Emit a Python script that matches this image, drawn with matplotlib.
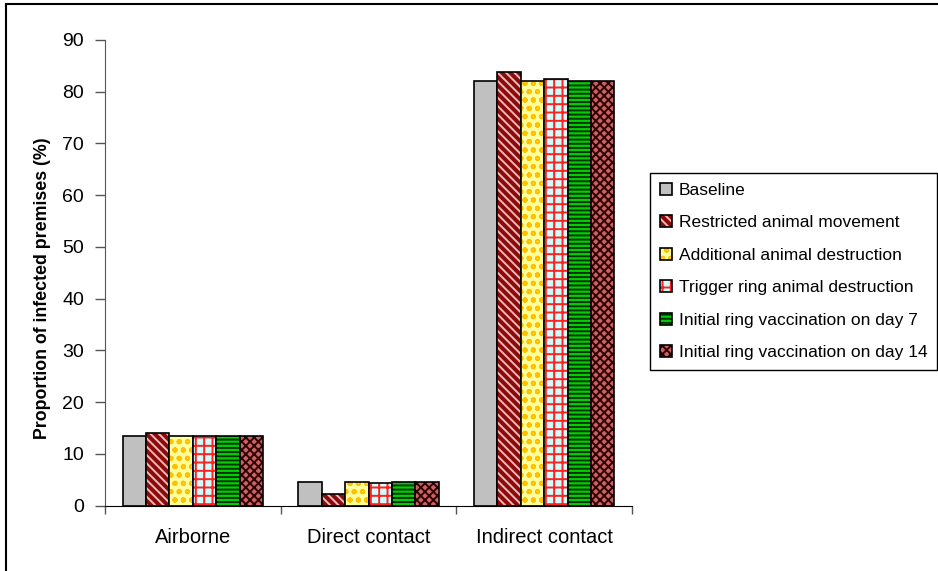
import numpy as np
import matplotlib
matplotlib.use('Agg')
import matplotlib.pyplot as plt
from matplotlib.patches import Rectangle, Patch

plt.rcParams['font.family'] = ['Liberation Sans', 'DejaVu Sans']
plt.rcParams['hatch.linewidth'] = 1.4

categories = ['Airborne', 'Direct contact', 'Indirect contact']
scenarios = ['Baseline', 'Restricted animal movement', 'Additional animal destruction',
             'Trigger ring animal destruction', 'Initial ring vaccination on day 7',
             'Initial ring vaccination on day 14']
values = [
    [13.5, 4.6, 82.1],   # Baseline
    [14.1, 2.2, 83.8],   # Restricted animal movement
    [13.5, 4.6, 82.0],   # Additional animal destruction
    [13.5, 4.3, 82.4],   # Trigger ring animal destruction
    [13.5, 4.6, 82.0],   # Initial ring vaccination on day 7
    [13.5, 4.6, 82.0],   # Initial ring vaccination on day 14
]

# fill colour, hatch pattern, hatch colour
styles = [
    ('#c0c0c0', '', '#c0c0c0'),
    ('#8b0a0a', '\\\\\\\\', '#f0b8b8'),
    ('#ffffa0', 'oo', '#ffc000'),
    ('#ccffff', '++', '#ff2020'),
    ('#00d000', '----', '#003000'),
    ('#c86464', 'xxxx', '#300000'),
]

fig = plt.figure(figsize=(9.38, 5.71), dpi=100)
ax = fig.add_axes([105 / 938, 1 - 505.5 / 571, 527 / 938, 465.5 / 571])

x = np.arange(len(categories))
w = 0.8 / len(scenarios)
handles = []
for i, (name, vals) in enumerate(zip(scenarios, values)):
    fc, hatch, hc = styles[i]
    pos = x - 0.4 + w * (i + 0.5)
    ax.bar(pos, vals, w, color=fc, edgecolor=hc, hatch=hatch, linewidth=0)
    ax.bar(pos, vals, w, fill=False, edgecolor='black', linewidth=1.2)
    handles.append(Patch(facecolor=fc, edgecolor=hc, hatch=hatch, linewidth=0))

ax.set_xlim(-0.5, 2.5)
ax.set_ylim(0, 90)
ax.set_yticks(range(0, 91, 10))
ax.set_xticks(x)
ax.set_xticklabels(categories)
ax.set_xticks([-0.5, 0.5, 1.5, 2.5], minor=True)
ax.tick_params(axis='x', which='major', length=0, pad=16, labelsize=14.5)
ax.tick_params(axis='x', which='minor', length=6, width=1, direction='out', color='#555555')
ax.tick_params(axis='y', length=7, width=1, color='#555555', labelsize=14, pad=8)
ax.spines['top'].set_visible(False)
ax.spines['right'].set_visible(False)
ax.spines['left'].set_color('#555555')
ax.spines['bottom'].set_color('black')
ax.set_ylabel('Proportion of infected premises (%)', fontweight='bold', fontsize=12.8)
ax.yaxis.set_label_coords(-0.103, 0.466)

# legend with small boxed swatches
leg_handles = []
for h in handles:
    leg_handles.append((h, Patch(fill=False, edgecolor='black', linewidth=1.2)))
leg = fig.legend(leg_handles, scenarios, loc='upper left',
                 bbox_to_anchor=(650 / 938, 1 - 173 / 571), bbox_transform=fig.transFigure,
                 fontsize=12.5, handlelength=0.7, handleheight=0.7, handletextpad=0.4,
                 labelspacing=1.0, borderpad=0.55, borderaxespad=0, fancybox=False,
                 edgecolor='black', framealpha=1)
leg.get_frame().set_linewidth(1.0)

# outer chart frame
fig.patches.append(Rectangle((6 / 938, -0.05), 1.2, 1.05 - 4 / 571, transform=fig.transFigure,
                             fill=False, edgecolor='black', linewidth=1.5))

fig.savefig('out.png', dpi=100)
